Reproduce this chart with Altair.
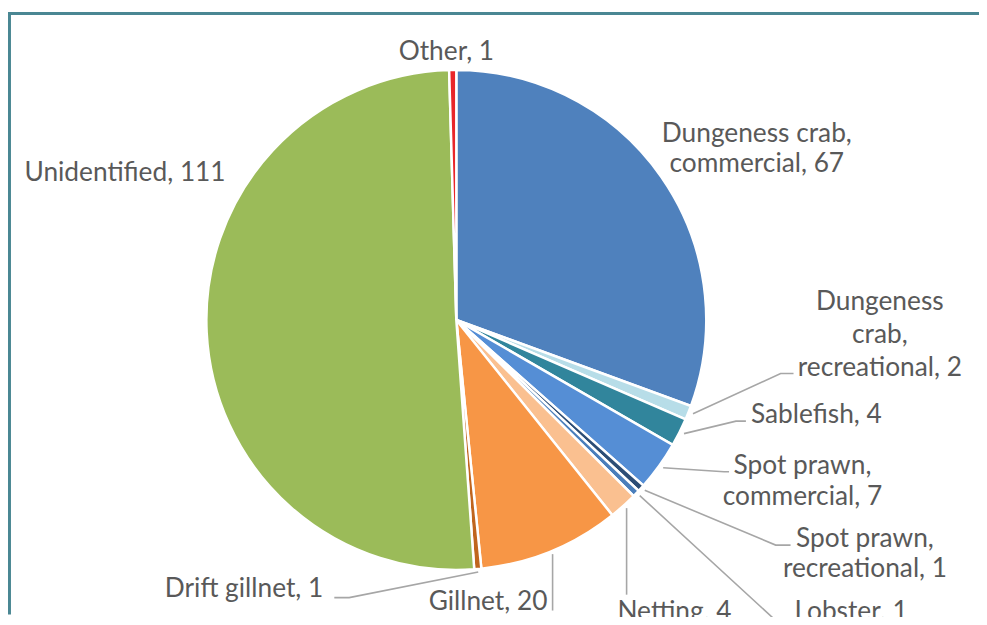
import math
import altair as alt
import pandas as pd

# ---------------- data ----------------
categories = [
    "Dungeness crab, commercial",
    "Dungeness crab, recreational",
    "Sablefish",
    "Spot prawn, commercial",
    "Spot prawn, recreational",
    "Lobster",
    "Netting",
    "Gillnet",
    "Drift gillnet",
    "Unidentified",
    "Other",
]
counts = [67, 2, 4, 7, 1, 1, 4, 20, 1, 111, 1]

# ---------------- styles / layout ----------------
slice_colors = [
    "#4f81bd", "#b7dde8", "#31859c", "#558ed5", "#2c4d75",
    "#4a7ebb", "#fac090", "#f79646", "#c0651e", "#9bbb59", "#e8262a",
]
W, H = 979, 609
CX, CY, R = 452, 312, 252
FONT = "Lato"
FONT_SIZE = 26.5
TEXT_COLOR = "#595959"
LEADER_COLOR = "#a6a6a6"
BORDER_COLOR = "#4a8793"

# words per text line for each label (None = one line)
label_wrap = [[2, 2], [1, 1, 2], None, [2, 2], [2, 2], None, None, None, None, None, None]
label_pos = [(755, 125), (879, 294), (815, 408), (801, 459), (864, 533),
             (850, 607), (672, 607), (484, 596), (238, 583), (118, 164), (442, 42)]
label_lh = [30, 33.5, 0, 32, 30, 0, 0, 0, 0, 0, 0]
# leader line bend/end points after the slice start (None x = vertical from start)
leader_pts = [
    None,
    [(779, 366), (792, 366)],
    [(734, 414), (744, 414)],
    [(722, 465), (727, 465)],
    [(774, 539), (789, 539)],
    [(774, 615), (789, 615)],
    [(None, 589)],
    [(None, 605)],
    [(344, 592), (329, 592)],
    None,
    None,
]

# ---------------- build tables ----------------
total = sum(counts)
pie_df = pd.DataFrame({"category": categories, "count": counts, "idx": range(len(counts))})

text_rows = []
line_rows = []
cum = 0
for i, (cat, n) in enumerate(zip(categories, counts)):
    mid = (cum + n / 2) / total * 2 * math.pi
    cum += n
    label = f"{cat}, {n}"
    words = label.split(" ")
    if label_wrap[i] is None:
        lines = [label]
    else:
        lines, k = [], 0
        for c in label_wrap[i]:
            lines.append(" ".join(words[k:k + c]))
            k += c
    lx, ly = label_pos[i]
    for j, t in enumerate(lines):
        text_rows.append({"text": t, "x": lx, "y": ly + j * label_lh[i]})
    if leader_pts[i] is not None:
        sx = CX + (R + 5) * math.sin(mid)
        sy = CY - (R + 3) * math.cos(mid)
        pts = [(sx, sy)] + [((sx if px is None else px), py) for px, py in leader_pts[i]]
        for o, (px, py) in enumerate(pts):
            line_rows.append({"id": i, "o": o, "x": px, "y": py})

text_df = pd.DataFrame(text_rows)
line_df = pd.DataFrame(line_rows)

# ---------------- charts ----------------
pie = alt.Chart(pie_df).mark_arc(outerRadius=R, stroke="white", strokeWidth=2.5).encode(
    theta=alt.Theta("count:Q", stack=True),
    color=alt.Color("category:N", scale=alt.Scale(domain=categories, range=slice_colors), legend=None),
    order=alt.Order("idx:Q"),
    x=alt.value(CX),
    y=alt.value(CY),
)

leaders = alt.Chart(line_df).mark_line(color=LEADER_COLOR, strokeWidth=1.6).encode(
    x=alt.X("x:Q", scale=None, axis=None),
    y=alt.Y("y:Q", scale=None, axis=None),
    detail="id:N",
    order="o:Q",
)

labels = alt.Chart(text_df).mark_text(
    font=FONT, fontSize=FONT_SIZE, color=TEXT_COLOR, align="center", baseline="middle"
).encode(
    x=alt.X("x:Q", scale=None, axis=None),
    y=alt.Y("y:Q", scale=None, axis=None),
    text="text:N",
)

one = pd.DataFrame({"a": [0]})
border_left = alt.Chart(one).mark_rule(color=BORDER_COLOR, strokeWidth=3).encode(
    x=alt.value(1.5), y=alt.value(1.5), y2=alt.value(H)
)
border_top = alt.Chart(one).mark_rule(color=BORDER_COLOR, strokeWidth=3).encode(
    x=alt.value(0), x2=alt.value(W), y=alt.value(3)
)

chart = alt.layer(pie, leaders, labels, border_left, border_top).properties(
    width=W, height=H, padding=0, autosize="none", background="white"
).configure_view(stroke=None)

chart.save("out.html", embed_options={"renderer": "svg", "actions": False})
